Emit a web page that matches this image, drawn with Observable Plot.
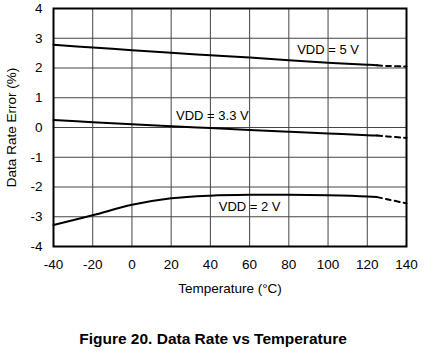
<!DOCTYPE html>
<html>
<head>
<meta charset="utf-8">
<script src="https://cdn.jsdelivr.net/npm/d3@7"></script>
<script src="https://cdn.jsdelivr.net/npm/@observablehq/plot@0.6"></script>
<style>
  html, body { margin: 0; padding: 0; background: #fff; }
  #chart { width: 426px; }
  #caption { width: 426px; text-align: center; font-family: "Liberation Sans", Arial, sans-serif; font-weight: bold; font-size: 15.5px; color: #000; margin-top: 30px; }
</style>
</head>
<body>
<div id="chart"></div>
<div id="caption">Figure 20. Data Rate vs Temperature</div>
<script>
const temps = [-40, -20, 0, 20, 40, 60, 80, 100, 120, 125];
const vdd5 = [2.78, 2.69, 2.60, 2.51, 2.43, 2.35, 2.26, 2.18, 2.11, 2.09];
const vdd33 = [0.25, 0.18, 0.11, 0.04, -0.02, -0.08, -0.14, -0.20, -0.26, -0.27];
const vdd2 = [-3.28, -2.95, -2.60, -2.38, -2.29, -2.26, -2.26, -2.28, -2.32, -2.34];

const tempsExt = [125, 130, 140];
const vdd5Ext = [2.09, 2.07, 2.05];
const vdd33Ext = [-0.27, -0.30, -0.35];
const vdd2Ext = [-2.34, -2.41, -2.55];

const xTicks = [-40, -20, 0, 20, 40, 60, 80, 100, 120, 140];
const yTicks = [-4, -3, -2, -1, 0, 1, 2, 3, 4];

const labelText = ["VDD = 5 V", "VDD = 3.3 V", "VDD = 2 V"];
const labelX = [100, 41, 60];
const labelY = [2.61, 0.39, -2.66];

const solid = [];
const dashed = [];
[["5", vdd5, vdd5Ext], ["3.3", vdd33, vdd33Ext], ["2", vdd2, vdd2Ext]].forEach(([s, v, e]) => {
  temps.forEach((t, i) => solid.push({s, t, v: v[i]}));
  tempsExt.forEach((t, i) => dashed.push({s, t, v: e[i]}));
});
const labels = labelText.map((text, i) => ({text, x: labelX[i], y: labelY[i]}));

const chart = Plot.plot({
  width: 426,
  height: 300,
  marginTop: 8,
  marginLeft: 53,
  marginRight: 20,
  marginBottom: 54,
  style: {fontFamily: "'Liberation Sans', Arial, sans-serif", fontSize: "13px", color: "#000", background: "#fff"},
  x: {domain: [-40, 140], ticks: xTicks},
  y: {domain: [-4, 4], ticks: yTicks},
  marks: [
    Plot.gridX(xTicks, {stroke: "#444", strokeOpacity: 1, strokeWidth: 1}),
    Plot.gridY(yTicks, {stroke: "#444", strokeOpacity: 1, strokeWidth: 1}),
    Plot.line(solid, {x: "t", y: "v", z: "s", stroke: "#000", strokeWidth: 2, curve: "catmull-rom"}),
    Plot.line(dashed, {x: "t", y: "v", z: "s", stroke: "#000", strokeWidth: 2, strokeDasharray: "5,4", curve: "catmull-rom"}),
    Plot.text(labels, {x: "x", y: "y", text: "text", fontSize: 13, fill: "#000"}),
    Plot.axisX(xTicks, {tickSize: 0, tickPadding: 13, fontSize: 13.5, tickFormat: d => String(d), label: "Temperature (°C)", labelAnchor: "center", labelOffset: 46, labelArrow: "none"}),
    Plot.axisY(yTicks, {tickSize: 0, tickPadding: 11, fontSize: 13.5, tickFormat: d => String(d), label: "Data Rate Error (%)", labelAnchor: "center", labelOffset: 47, labelArrow: "none"}),
    Plot.frame({stroke: "#000", strokeWidth: 2})
  ]
});
document.getElementById("chart").appendChild(chart);
</script>
</body>
</html>
